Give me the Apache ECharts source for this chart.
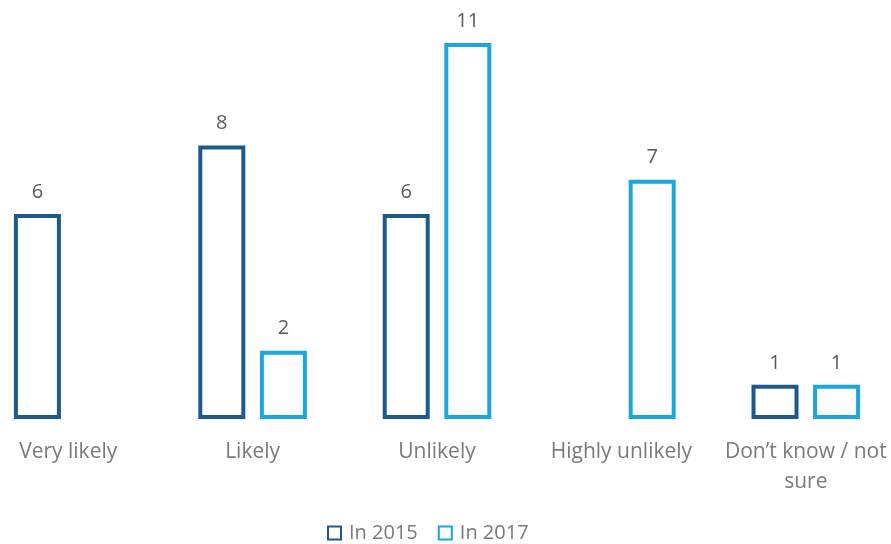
<!DOCTYPE html>
<html>
<head>
<meta charset="utf-8">
<script src="https://cdn.jsdelivr.net/npm/echarts@6/dist/echarts.min.js"></script>
<style>
  html, body { margin: 0; padding: 0; background: #fff; }
  #chart { width: 891px; height: 544px; }
</style>
</head>
<body>
<div id="chart"></div>
<script>
const categories = ["Very likely", "Likely", "Unlikely", "Highly unlikely", "Don\u2019t know / not\nsure"];
const values2015 = [6, 8, 6, null, 1];
const values2017 = [null, 2, 11, 7, 1];

const dark = "#1C5A8C";
const light = "#1BA6DE";
const font = "Open Sans";

let myChart = echarts.init(document.getElementById("chart"));

function barSeries(name, data, color) {
  return {
    name: name,
    type: "bar",
    data: data,
    barWidth: 47,
    barGap: "31%",
    itemStyle: {
      color: "#fff",
      borderColor: color,
      borderWidth: 4
    },
    label: {
      show: true,
      position: "top",
      distance: 12,
      color: "#595959",
      fontFamily: font,
      fontSize: 20
    }
  };
}

let option = {
  backgroundColor: "#fff",
  animation: false,
  grid: { left: -24, right: -7, top: 43, bottom: 125, outerBoundsMode: "none", containLabel: false },
  legend: {
    top: 518,
    left: 322,
    itemWidth: 13,
    itemHeight: 13,
    itemGap: 20,
    icon: "rect",
    textStyle: { color: "#7a7a7a", fontFamily: font, fontSize: 20, padding: [0, 0, 0, 3] },
    data: ["In 2015", "In 2017"]
  },
  xAxis: {
    type: "category",
    data: categories,
    axisLine: { show: false },
    axisTick: { show: false },
    axisLabel: {
      color: "#7a7a7a",
      fontFamily: font,
      fontSize: 21,
      margin: 18,
      lineHeight: 30,
      interval: 0
    }
  },
  yAxis: {
    type: "value",
    min: 0,
    max: 11,
    show: false
  },
  series: [
    barSeries("In 2015", values2015, dark),
    barSeries("In 2017", values2017, light)
  ]
};

myChart.setOption(option);
</script>
</body>
</html>
